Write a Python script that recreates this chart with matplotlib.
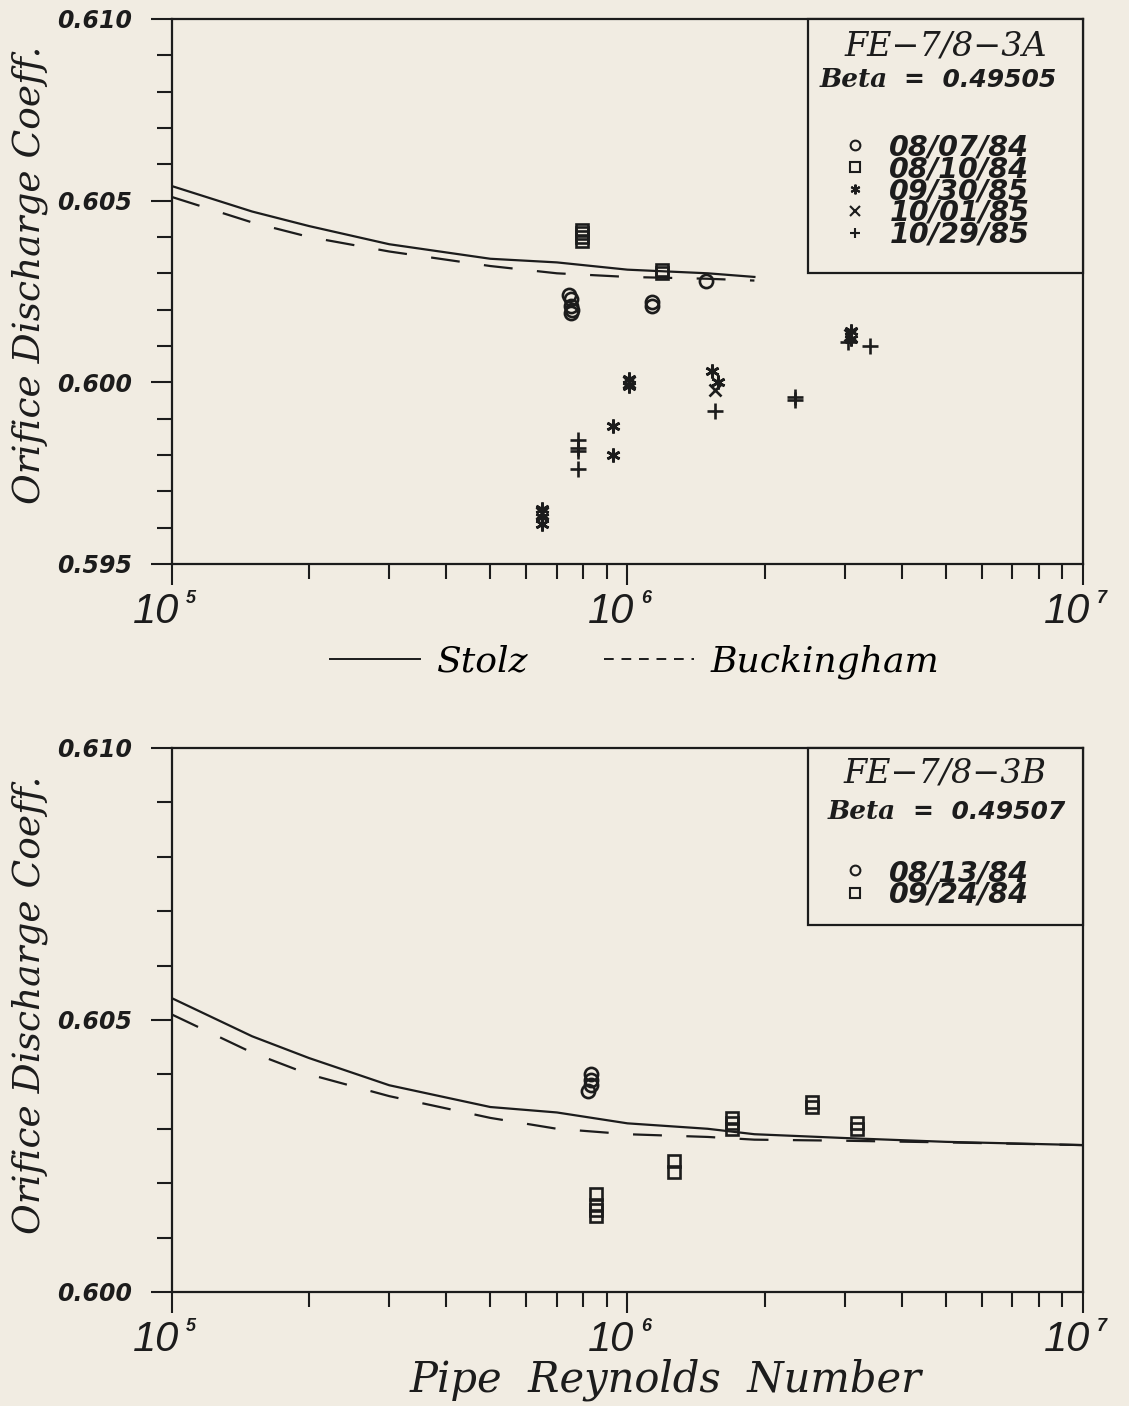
import matplotlib
matplotlib.use('Agg')
import matplotlib.pyplot as plt
from matplotlib.lines import Line2D
from matplotlib.patches import Rectangle
from matplotlib.ticker import MultipleLocator, FixedLocator, NullFormatter, FormatStrFormatter

# curves
re_curve = [1e5, 1.5e5, 2e5, 3e5, 5e5, 7e5, 1e6, 1.5e6, 1.9e6, 3e6, 5e6, 1e7]
stolz = [0.6054, 0.6047, 0.6043, 0.6038, 0.6034, 0.6033, 0.6031, 0.6030, 0.6029, 0.60283, 0.60276, 0.6027]
buckingham = [0.6051, 0.6044, 0.6040, 0.6036, 0.6032, 0.6030, 0.6029, 0.60285, 0.6028, 0.60278, 0.60275, 0.6027]
n_top = 9  # top panel curves stop near 1.9e6

# FE-7/8-3A
re_a1 = [7.45e5, 7.5e5, 7.5e5, 7.55e5, 7.5e5, 1.13e6, 1.13e6, 1.49e6]
c_a1 = [0.6024, 0.6023, 0.6021, 0.6020, 0.6019, 0.6022, 0.6021, 0.6028]
re_a2 = [7.95e5, 7.95e5, 7.95e5, 7.95e5, 1.19e6, 1.19e6]
c_a2 = [0.6042, 0.6041, 0.6040, 0.6039, 0.6031, 0.6030]
re_a3 = [6.5e5, 6.5e5, 6.5e5, 9.3e5, 9.3e5, 1.01e6, 1.01e6, 1.53e6, 1.58e6, 3.1e6, 3.1e6]
c_a3 = [0.5965, 0.5963, 0.5961, 0.5988, 0.5980, 0.6001, 0.5999, 0.6003, 0.6000, 0.6014, 0.6012]
re_a4 = [6.5e5, 1.01e6, 1.56e6, 3.08e6]
c_a4 = [0.5964, 0.6000, 0.5998, 0.6013]
re_a5 = [7.8e5, 7.8e5, 7.8e5, 7.8e5, 1.56e6, 2.33e6, 2.33e6, 3.05e6, 3.4e6]
c_a5 = [0.5984, 0.5982, 0.5981, 0.5976, 0.5992, 0.5996, 0.5995, 0.6011, 0.6010]
dates_a = ['08/07/84', '08/10/84', '09/30/85', '10/01/85', '10/29/85']

# FE-7/8-3B
re_b1 = [8.3e5, 8.3e5, 8.3e5, 8.2e5]
c_b1 = [0.6040, 0.6039, 0.6038, 0.6037]
re_b2 = [8.55e5, 8.55e5, 8.55e5, 8.55e5, 1.265e6, 1.265e6, 1.70e6, 1.70e6, 1.70e6, 2.54e6, 2.54e6, 3.19e6, 3.19e6]
c_b2 = [0.6018, 0.6016, 0.6015, 0.6014, 0.6024, 0.6022, 0.6032, 0.6031, 0.6030, 0.6035, 0.6034, 0.6031, 0.6030]
dates_b = ['08/13/84', '09/24/84']

bg = '#f1ece2'
ink = '#1c1c1c'
serif = {'family': 'DejaVu Serif', 'style': 'italic'}
sans = {'family': 'DejaVu Sans', 'style': 'italic', 'weight': 'bold'}
digits = {'family': 'Liberation Sans', 'style': 'italic'}

fig = plt.figure(figsize=(11.29, 14.06), dpi=100, facecolor=bg)
ax1 = fig.add_axes([0.1523, 0.5989, 0.8069, 0.3876])
ax2 = fig.add_axes([0.1523, 0.0811, 0.8069, 0.3869])

mk = dict(linestyle='none', color=ink, markerfacecolor='none', markeredgewidth=1.9)


def setup(ax, ylo, yhi):
    ax.set_facecolor(bg)
    ax.set_xscale('log')
    ax.set_xlim(1e5, 1e7)
    ax.set_ylim(ylo, yhi)
    for s in ax.spines.values():
        s.set_linewidth(1.6)
        s.set_color(ink)
    ax.yaxis.set_major_locator(FixedLocator([ylo + i * 0.005 for i in range(int(round((yhi - ylo) / 0.005)) + 1)]))
    ax.yaxis.set_minor_locator(MultipleLocator(0.001))
    ax.yaxis.set_major_formatter(FormatStrFormatter('%.3f'))
    ax.xaxis.set_major_formatter(NullFormatter())
    ax.xaxis.set_minor_formatter(NullFormatter())
    ax.tick_params(which='both', direction='out', top=False, right=False, color=ink, width=1.5)
    ax.tick_params(which='major', length=15, pad=14)
    ax.tick_params(which='minor', length=11)
    for lab in ax.get_yticklabels():
        lab.set(fontsize=17, color=ink, **sans)
    for k in (5, 6, 7):
        ax.annotate('10', xy=(10 ** k, 0), xycoords=('data', 'axes fraction'),
                    xytext=(5, -20), textcoords='offset points', ha='right', va='top',
                    fontsize=30, color=ink, **digits)
        ax.annotate(str(k), xy=(10 ** k, 0), xycoords=('data', 'axes fraction'),
                    xytext=(10, -19), textcoords='offset points', ha='left', va='top',
                    fontsize=13, color=ink, fontweight='bold', **digits)


setup(ax1, 0.595, 0.610)
setup(ax2, 0.600, 0.610)

# top panel
ax1.plot(re_curve[:n_top], stolz[:n_top], color=ink, lw=1.6)
ax1.plot(re_curve[:n_top], buckingham[:n_top], color=ink, lw=1.6, dashes=(13, 11))
h1 = ax1.plot(re_a1, c_a1, marker='o', markersize=9.5, **mk)[0]
h2 = ax1.plot(re_a2, c_a2, marker='s', markersize=8, **mk)[0]
h3 = ax1.plot(re_a3, c_a3, marker=(6, 2, 0), markersize=10, **mk)[0]
h4 = ax1.plot(re_a4, c_a4, marker='x', markersize=8, **mk)[0]
h5 = ax1.plot(re_a5, c_a5, marker='+', markersize=12, **mk)[0]

# bottom panel
ax2.plot(re_curve, stolz, color=ink, lw=1.6)
ax2.plot(re_curve, buckingham, color=ink, lw=1.6, dashes=(13, 11))
g1 = ax2.plot(re_b1, c_b1, marker='o', markersize=9.5, **mk)[0]
g2 = ax2.plot(re_b2, c_b2, marker='s', markersize=8, **mk)[0]


def keybox(ax, y0, name, beta, handles, labels, y_name, y_beta, y_row0, pitch, dx=0.0):
    ax.add_patch(Rectangle((0.698, y0), 0.302, 1 - y0, transform=ax.transAxes,
                           facecolor=bg, edgecolor=ink, lw=1.6, zorder=5, clip_on=False))
    ax.text(0.849, y_name, name, transform=ax.transAxes, ha='center', va='center',
            fontsize=24, color=ink, zorder=6, **serif)
    ax.text(0.786 + dx, y_beta, 'Beta', transform=ax.transAxes, ha='right', va='center',
            fontsize=19, color=ink, zorder=6, fontweight='bold', **serif)
    ax.text(0.804 + dx, y_beta, '=  0.4950' + beta, transform=ax.transAxes, ha='left', va='center',
            fontsize=18, color=ink, zorder=6, **sans)
    for i, h in enumerate(handles):
        ax.plot([0.7497], [y_row0 - i * pitch], transform=ax.transAxes, clip_on=False,
                linestyle='none', marker=h.get_marker(), markersize=7,
                markerfacecolor='none', markeredgecolor=ink, markeredgewidth=1.5, zorder=7)
    # first row centre -> top of the text block (about 11 px above)
    top = y_row0 + 11.0 / (ax.get_position().height * fig.bbox.height)
    ax.text(0.7875, top, '\n'.join(labels), transform=ax.transAxes, ha='left', va='top',
            linespacing=0.71, fontsize=20.5, color=ink, zorder=6, **sans)


keybox(ax1, 0.534, 'FE\u22127/8\u22123A', '5', [h1, h2, h3, h4, h5], dates_a,
       0.9486, 0.8881, 0.7688, 0.0404)
keybox(ax2, 0.675, 'FE\u22127/8\u22123B', '7', [g1, g2], dates_b,
       0.954, 0.8824, 0.7757, 0.0423, dx=0.009)

# line key between the panels
fig.legend([Line2D([], [], color=ink, lw=1.4), Line2D([], [], color=ink, lw=1.4, dashes=(5, 4))],
           ['Stolz', 'Buckingham'], loc='center', bbox_to_anchor=(0.562, 0.5295), ncol=2,
           frameon=False, handlelength=2.5, handletextpad=0.45, columnspacing=2.1,
           prop={'family': 'DejaVu Serif', 'style': 'italic', 'size': 26})

fig.text(0.0266, 0.8044, 'Orifice Discharge Coeff.', rotation=90, ha='center', va='center',
         fontsize=27, color=ink, **serif)
fig.text(0.0266, 0.2852, 'Orifice Discharge Coeff.', rotation=90, ha='center', va='center',
         fontsize=27, color=ink, **serif)
fig.text(0.590, 0.019, 'Pipe  Reynolds  Number', ha='center', va='center',
         fontsize=30, color=ink, **serif)

fig.savefig('out.png', dpi=100, facecolor=bg)
